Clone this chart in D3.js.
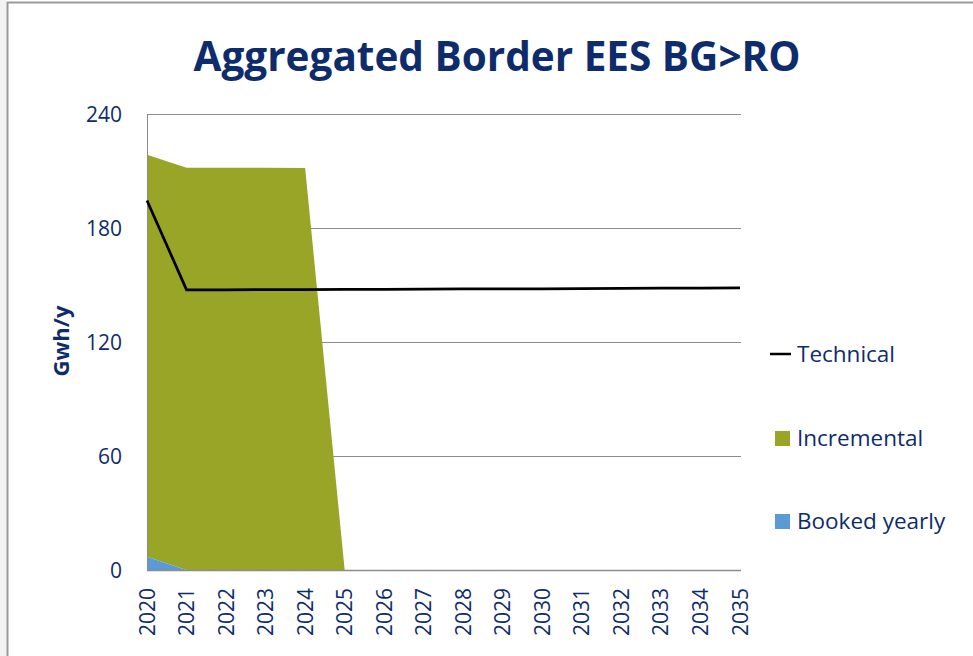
<!DOCTYPE html>
<html>
<head>
<meta charset="utf-8">
<script src="https://cdn.jsdelivr.net/npm/d3@7"></script>
<style>
  body { margin: 0; background: #fff; }
  text { font-family: "Open Sans", sans-serif; fill: #0e2c6b; }
</style>
</head>
<body>
<svg width="973" height="656"></svg>
<script>
    // chart values
    var years = [2020, 2021, 2022, 2023, 2024, 2025, 2026, 2027, 2028, 2029, 2030, 2031, 2032, 2033, 2034, 2035];
    var booked = [7, 0, 0, 0, 0, 0, 0, 0, 0, 0, 0, 0, 0, 0, 0, 0];
    var incremental = [211.5, 211.7, 211.7, 211.7, 211.6, 0, 0, 0, 0, 0, 0, 0, 0, 0, 0, 0];
    var technical = [194.5, 147.5, 147.5, 147.6, 147.6, 147.7, 147.7, 147.8, 147.9, 147.9, 148, 148.1, 148.2, 148.3, 148.4, 148.5];
    var yTicks = [0, 60, 120, 180, 240];
    var legendItems = ["Technical", "Incremental", "Booked yearly"];

    var green = "#98a526";
    var blue = "#5b9bd5";

    var svg = d3.select("svg");

    // frame
    svg.append("rect").attr("x", 0).attr("y", 0).attr("width", 7).attr("height", 656).attr("fill", "#f3f3f3");
    svg.append("line").attr("x1", 7.5).attr("x2", 7.5).attr("y1", 2).attr("y2", 656)
        .attr("stroke", "#9a9a9a").attr("stroke-width", 2);
    svg.append("line").attr("x1", 7).attr("x2", 973).attr("y1", 2.5).attr("y2", 2.5)
        .attr("stroke", "#9a9a9a").attr("stroke-width", 2);

    var x = d3.scalePoint().domain(years).range([147, 740]);
    var y = d3.scaleLinear().domain([0, 240]).range([570, 114]);

    // gridlines
    svg.append("g").selectAll("line").data(yTicks.slice(1)).enter()
        .append("line")
        .attr("x1", 147).attr("x2", 741)
        .attr("y1", function(d) { return y(d) + 0.5; })
        .attr("y2", function(d) { return y(d) + 0.5; })
        .attr("stroke", "#8c8c8c").attr("stroke-width", 1);

    var rows = years.map(function(yr, i) {
        return { year: yr, booked: booked[i], incr: incremental[i], tech: technical[i] };
    });

    // stacked areas
    var areaBooked = d3.area()
        .x(function(d) { return x(d.year); })
        .y0(function() { return y(0); })
        .y1(function(d) { return y(d.booked); });
    var areaIncr = d3.area()
        .x(function(d) { return x(d.year); })
        .y0(function(d) { return y(d.booked); })
        .y1(function(d) { return y(d.booked + d.incr); });

    svg.append("path").datum(rows).attr("d", areaIncr).attr("fill", green);
    svg.append("path").datum(rows).attr("d", areaBooked).attr("fill", blue);

    // axes lines
    svg.append("line").attr("x1", 147.5).attr("x2", 147.5).attr("y1", 114).attr("y2", 570)
        .attr("stroke", "#8c8c8c");
    svg.append("line").attr("x1", 147).attr("x2", 741).attr("y1", 570.5).attr("y2", 570.5)
        .attr("stroke", "#8c8c8c").attr("stroke-width", 1.5);

    // technical line
    var line = d3.line()
        .x(function(d) { return x(d.year); })
        .y(function(d) { return y(d.tech); });
    svg.append("path").datum(rows).attr("d", line)
        .attr("fill", "none").attr("stroke", "#000").attr("stroke-width", 2.75);

    // y tick labels
    svg.append("g").selectAll("text").data(yTicks).enter()
        .append("text")
        .attr("x", 122)
        .attr("y", function(d) { return y(d); })
        .attr("dy", "0.36em")
        .attr("text-anchor", "end")
        .style("font-size", "21px")
        .text(function(d) { return d; });

    // x tick labels
    svg.append("g").selectAll("text").data(years).enter()
        .append("text")
        .attr("transform", function(d) { return "translate(" + x(d) + ",588) rotate(-90)"; })
        .attr("dy", "0.36em")
        .attr("text-anchor", "end")
        .style("font-size", "21px")
        .text(function(d) { return d; });

    // y axis title
    svg.append("text")
        .attr("transform", "translate(61,341) rotate(-90)")
        .attr("dy", "0.36em")
        .attr("text-anchor", "middle")
        .style("font-size", "22px")
        .style("font-weight", "bold")
        .text("Gwh/y");

    // title
    svg.append("text")
        .attr("x", 497).attr("y", 71)
        .attr("text-anchor", "middle")
        .style("font-size", "40.5px")
        .style("font-weight", "bold")
        .text("Aggregated Border EES BG>RO");

    // legend
    var legY = [354, 438, 521];
    var leg = svg.append("g").selectAll("g").data(legendItems).enter()
        .append("g")
        .attr("transform", function(d, i) { return "translate(770," + legY[i] + ")"; });
    leg.each(function(d, i) {
        var g = d3.select(this);
        if (i == 0) {
            g.append("line").attr("x1", 0).attr("x2", 21).attr("y1", 0).attr("y2", 0)
                .attr("stroke", "#000").attr("stroke-width", 2.5);
        } else {
            g.append("rect").attr("x", 5).attr("y", -7).attr("width", 15).attr("height", 15)
                .attr("fill", i == 1 ? green : blue);
        }
        g.append("text").attr("x", 27).attr("dy", "0.36em")
            .style("font-size", "22.5px")
            .text(d);
    });
</script>
</body>
</html>
